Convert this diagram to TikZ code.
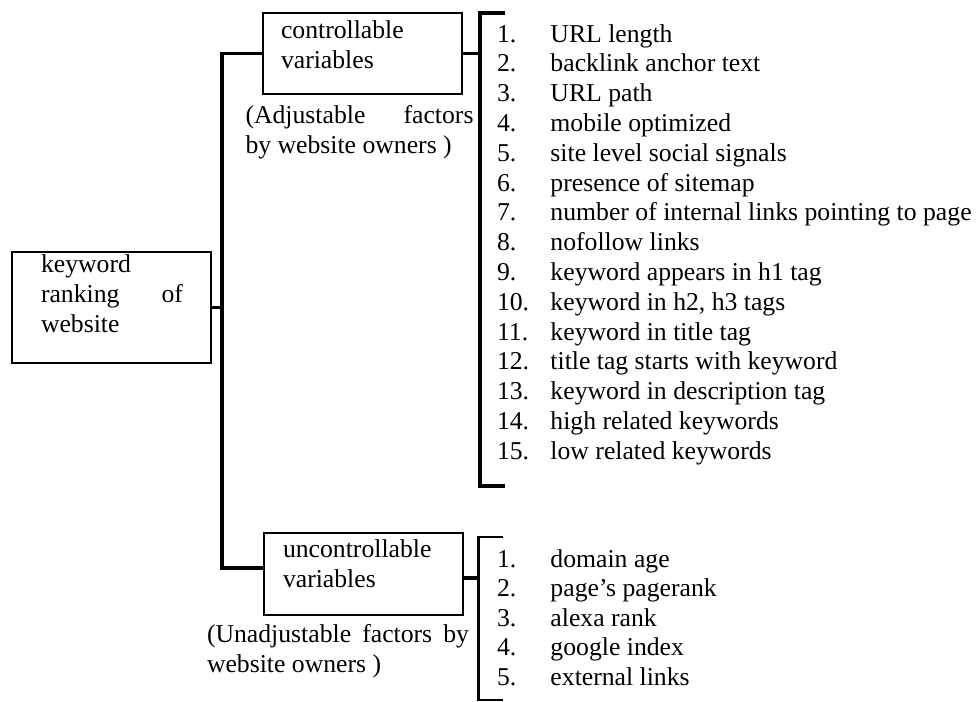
\documentclass[tikz,border=0pt]{standalone}
\usepackage{fontspec}
\setmainfont{Liberation Serif}
\begin{document}
\begin{tikzpicture}[x=1pt,y=-1pt,
  every node/.style={inner sep=0pt, outer sep=0pt},
  txt/.style={font=\fontsize{25.7}{30}\selectfont, anchor=base west},
  box/.style={draw, line width=2pt, anchor=north west},
  wire/.style={line width=3.2pt, line join=miter},
  thinwire/.style={line width=2.3pt, line join=miter}]
\useasboundingbox (0,0) rectangle (976,701);

% root box
\node[box, minimum width=199.5pt, minimum height=111pt] (main) at (11.5,252) {};
\node[txt] (mainT) at (41,272.7) {\parbox[t]{142pt}{keyword\\ ranking\hfill of\\ website}};

% controllable branch
\node[box, minimum width=199pt, minimum height=81pt] (ctrl) at (263,13) {};
\node[txt] (ctrlT) at (281,38) {\parbox[t]{170pt}{controllable\\ variables}};
\node[txt] (ctrlNote) at (245.5,123) {\parbox[t]{228pt}{(Adjustable\hfill factors\\ by website owners )}};

% uncontrollable branch
\node[box, minimum width=199pt, minimum height=82pt] (unc) at (264,533) {};
\node[txt] (uncT) at (283,557) {\parbox[t]{175pt}{uncontrollable\\ variables}};
\node[txt] (uncNote) at (207,642) {\parbox[t]{262pt}{(Unadjustable\hfill factors\hfill by\\ website owners )}};

% tree spine
\coordinate (spine) at (222,0);
\draw[wire] (ctrl.west) -- (ctrl.west -| spine) |- ([yshift=6pt]unc.west);
\draw[wire] (main.east) -- (main.east -| spine);

% bracket for the controllable list
\coordinate (b1spine) at (480,0);
\coordinate (b1t) at (505,13);
\coordinate (b1b) at (505,486);
\draw[wire] (b1t) -- (b1t -| b1spine) -- (b1b -| b1spine) -- (b1b);
\draw[wire] (ctrl.east) -- (ctrl.east -| b1spine);

% bracket for the uncontrollable list
\coordinate (b2spine) at (478.5,0);
\coordinate (b2t) at (503,537);
\coordinate (b2b) at (503,700);
\draw[thinwire] (b2t) -- (b2t -| b2spine) -- (b2b -| b2spine) -- (b2b);
\draw[wire] ([yshift=-4pt]unc.east) -- ([yshift=-4pt]unc.east -| b2spine);

% controllable factors
\foreach \n/\t in {1/URL length, 2/backlink anchor text, 3/URL path,
  4/mobile optimized, 5/site level social signals, 6/presence of sitemap,
  7/number of internal links pointing to page, 8/nofollow links,
  9/keyword appears in h1 tag, 10/{keyword in h2, h3 tags},
  11/keyword in title tag, 12/title tag starts with keyword,
  13/keyword in description tag, 14/high related keywords,
  15/low related keywords}
  \node[txt] (c\n) at (497,{42+(\n-1)*29.8}) {\makebox[53.5pt][l]{\n.}\t};

% uncontrollable factors
\foreach \n/\t in {1/domain age, 2/page’s pagerank, 3/alexa rank,
  4/google index, 5/external links}
  \node[txt] (u\n) at (497,{567+(\n-1)*29.5}) {\makebox[53.5pt][l]{\n.}\t};
\end{tikzpicture}
\end{document}
